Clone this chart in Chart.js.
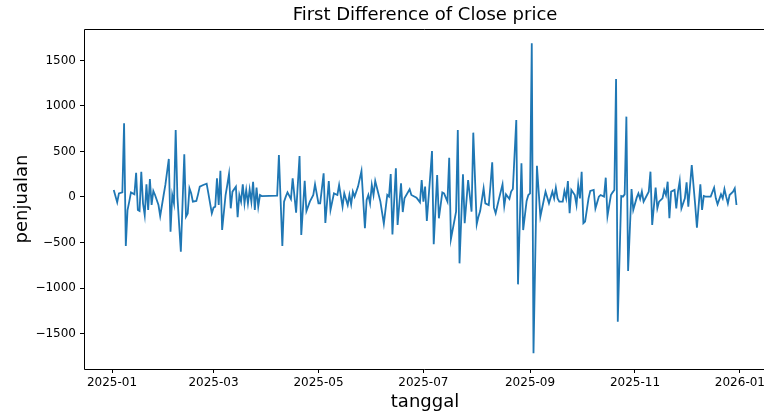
<!DOCTYPE html>
<html>
<head>
<meta charset="utf-8">
<script src="https://cdn.jsdelivr.net/npm/chart.js@4.4.0/dist/chart.umd.min.js"></script>
<style>
  html, body { margin: 0; padding: 0; background: #fff; }
  #wrap { width: 764px; height: 415px; position: relative; }
</style>
</head>
<body>
<div id="wrap"><canvas id="diffChart"></canvas></div>
<script>
// hari = days since 2025-01-01, selisih = first difference of close price
const hari = [
  1, 3, 4, 6, 7, 8, 9, 10, 11, 13, 14, 15, 16, 17, 18, 19, 20, 21, 22, 23, 24, 25, 27, 28, 30, 31, 33, 34, 35, 36,
  37, 38, 40, 42, 43, 44, 45, 46, 47, 49, 50, 51, 53, 55, 56, 58, 59, 60, 61, 62, 63, 64, 66, 67, 68, 69, 70, 72, 73, 74,
  75, 76, 77, 78, 79, 80, 81, 82, 83, 84, 85, 86, 87,
  96, 97, 99, 100, 101, 102, 104, 105, 107, 109, 110, 112, 113, 115, 117, 118, 120, 121, 123, 124, 126, 127, 129, 131, 132, 134,
  135, 137, 138, 139, 140, 141, 143, 145, 147, 148, 149, 150, 151, 152, 153, 156, 158, 160, 161, 162, 163, 165, 166, 168, 169, 170,
  173, 174, 177, 179, 180, 181,
  182, 183, 185, 186, 187, 189, 190, 192, 193, 195, 196, 197, 200, 201, 202, 204, 205, 207, 209, 210, 212, 213, 214, 216, 217, 219,
  220, 221, 222, 223, 225, 227, 228, 229, 231, 232, 233, 235, 236, 238, 239, 241, 242, 243, 244, 245, 247, 249, 251, 252, 254, 256,
  257, 258, 259, 260, 262, 263, 264, 265, 266, 267, 269, 270, 271, 272, 273, 274,
  275, 277, 278, 280, 281, 283, 284, 286, 287, 288, 290, 291, 292, 293, 294, 296, 297, 298, 299, 300, 302, 303, 305, 306, 307, 308,
  309, 311, 312, 313, 314, 316, 317, 318, 320, 321, 322, 323, 324, 325, 327, 328, 329, 330, 331, 333, 334, 335, 337, 339, 340, 342,
  343, 344, 345, 347, 348, 350, 351, 352, 354, 355, 356, 357, 358, 359, 361, 362, 363
];
const selisih = [
  77, -59, 40, 51, 810, -539, -143, -51, 51, 29, 267, -143, -154, 278, -70, -198, 139, -143, 198, -88, 66, 22, -88, -209, 22, 132, 418, -381, 22, -70,
  736, 0, -601, 469, -216, -180, 95, 40, -51, -44, 29, 114, 132, 147, 40, -180, -117, -106, 205, -88, 289, -363, 22, 132, 253, -124, 59, 114, -223, 22,
  -51, 139, -70, 77, -70, 84, -51, 168, -143, 103, -106, 22, 10,
  15, 462, -539, -51, 4, 51, -22, 205, -172, 451, -418, 179, -154, -51, 22, 139, -70, -70, 260, -286, 176, -143, 40, 22, 132, -106,
  40, -88, 22, -81, 59, 4, 114, 286, -344, -33, 22, -70, 132, 22, 176, -51, -293, 22, 4, 253, -411, 315, -308, 150, -165, -15,
  84, 22, -7, -59, 187, -51,
  114, -264, 242, 506, -520, 242, -234, 51, 40, -51, 432, -462, -161, 736, -729, 249, -289, 187, -161, 707, -300, -216, -154, 95, -70, -88,
  132, 381, -117, -179, -15, 139, -99, 29, -22, 59, 88, 846, -960, 370, -363, -44, 22, 40, 1689, -1718, 344, -216, -33, 59, -70, 59,
  -15, 103, -15, -51, -51, 66, -15, 176, -179, 77, 22, -88, 132, -15, 278, -289,
  -271, -15, 66, 77, -125, 4, 22, 4, 212, -209, 22, 51, 77, 1297, -1370, 11, 4, 29, 883, -813, 88, -143, -7, 40, -22, 59,
  -51, 22, 59, 278, -308, 103, -125, -51, -15, 77, 22, 168, -234, 59, 77, -125, 59, 176, -125, -15, 161, -106, 352, -88, -337, 139,
  -143, 11, 4, 4, 4, 103, -15, -81, 29, -15, 88, 4, -70, 22, 59, 95, -88
];
const tickBulan = ["2025-01", "2025-03", "2025-05", "2025-07", "2025-09", "2025-11", "2026-01"];
const tickNilai = [-1500, -1000, -500, 0, 500, 1000, 1500];

const judul = "First Difference of Close price";
const labelX = "tanggal";
const labelY = "penjualan";

const AWAL = Date.UTC(2025, 0, 1);
const MS_HARI = 86400000;
function bulanKeHari(s) {
  const [y, m] = s.split("-").map(Number);
  return (Date.UTC(y, m - 1, 1) - AWAL) / MS_HARI;
}
const tickHari = tickBulan.map(bulanKeHari);

const FONT = "'DejaVu Sans', 'Liberation Sans', sans-serif";

// spines + title + axis labels, drawn like matplotlib
const bingkai = {
  id: "bingkai",
  afterDraw(chart) {
    const { ctx, chartArea: a } = chart;
    const tengahX = (a.left + 766) / 2;
    ctx.save();
    ctx.strokeStyle = "#000";
    ctx.lineWidth = 1;
    ctx.beginPath();
    ctx.moveTo(766, a.bottom + 0.5);
    ctx.lineTo(a.left + 0.5, a.bottom + 0.5);
    ctx.lineTo(a.left + 0.5, a.top + 0.5);
    ctx.lineTo(766, a.top + 0.5);
    ctx.stroke();

    ctx.fillStyle = "#000";
    ctx.textAlign = "center";
    ctx.textBaseline = "middle";
    ctx.font = "18px " + FONT;
    ctx.fillText(judul, tengahX, 15);
    ctx.fillText(labelX, tengahX, 402);

    ctx.translate(22, (a.top + a.bottom) / 2);
    ctx.rotate(-Math.PI / 2);
    ctx.fillText(labelY, 0, 0);
    ctx.restore();
  }
};

const ctx = document.getElementById("diffChart").getContext("2d");
new Chart(ctx, {
  type: "line",
  data: {
    datasets: [{
      data: hari.map((h, i) => ({ x: h, y: selisih[i] })),
      borderColor: "#1f77b4",
      borderWidth: 1.8,
      pointRadius: 0,
      tension: 0,
      fill: false
    }]
  },
  options: {
    responsive: true,
    maintainAspectRatio: false,
    animation: false,
    layout: { padding: { top: 29, left: 0, right: 0, bottom: 0 } },
    plugins: {
      legend: { display: false },
      title: { display: false },
      tooltip: { enabled: false }
    },
    scales: {
      x: {
        type: "linear",
        min: -16.3,
        max: 379.0,
        border: { display: false },
        grid: { display: true, drawOnChartArea: false, drawTicks: true, tickLength: 4, color: "#000" },
        ticks: {
          color: "#000",
          padding: 3,
          maxRotation: 0,
          autoSkip: false,
          font: { family: FONT, size: 12 },
          callback: (v) => {
            const i = tickHari.indexOf(v);
            return i >= 0 ? tickBulan[i] : "";
          }
        },
        afterBuildTicks: (s) => { s.ticks = tickHari.map(v => ({ value: v })); },
        afterFit: (s) => { s.height = 46; s.paddingLeft = 0; s.paddingRight = 0; }
      },
      y: {
        min: -1890,
        max: 1846,
        border: { display: false },
        grid: { display: true, drawOnChartArea: false, drawTicks: true, tickLength: 4, color: "#000" },
        ticks: {
          color: "#000",
          padding: 4,
          font: { family: FONT, size: 12 },
          callback: (v) => (v < 0 ? "\u2212" + Math.abs(v) : String(v))
        },
        afterBuildTicks: (s) => { s.ticks = tickNilai.map(v => ({ value: v })); },
        afterFit: (s) => { s.width = 84; s.paddingTop = 0; s.paddingBottom = 0; }
      }
    }
  },
  plugins: [bingkai]
});
</script>
</body>
</html>
